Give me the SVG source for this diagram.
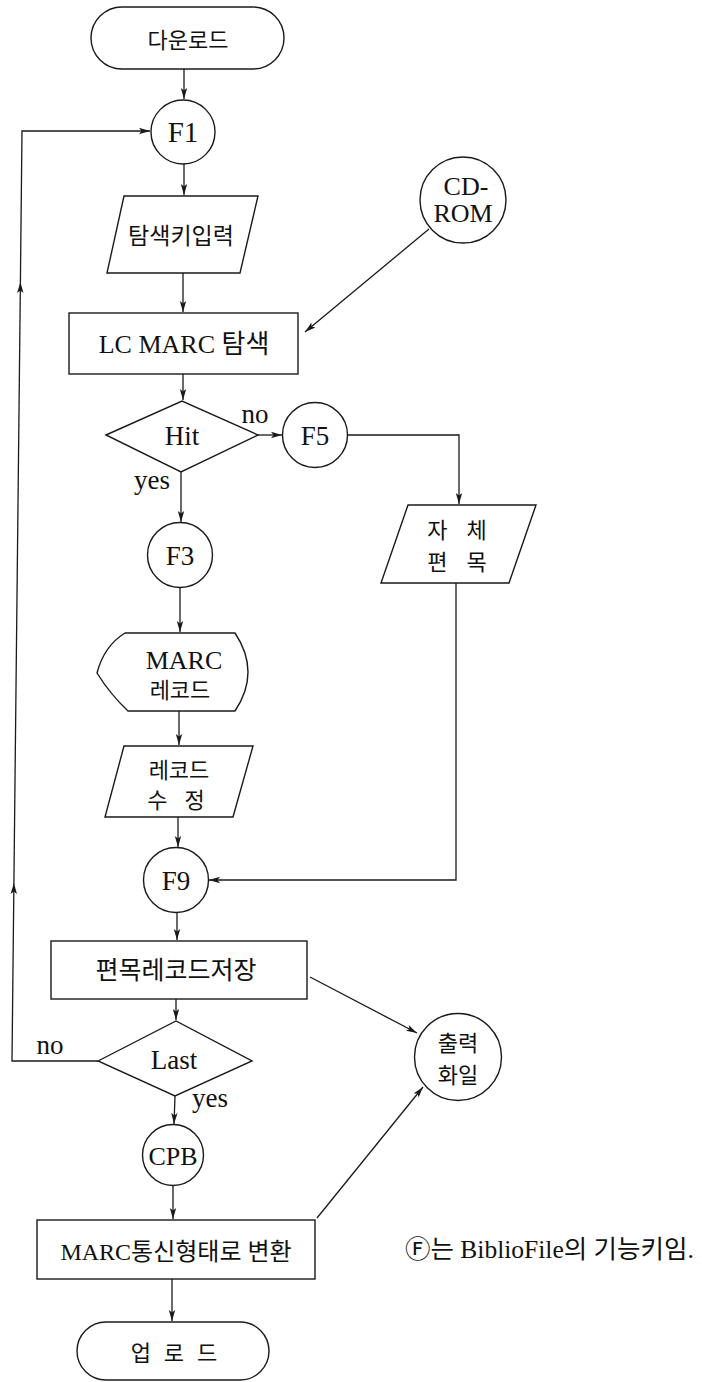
<svg xmlns="http://www.w3.org/2000/svg" width="702" height="1382" viewBox="0 0 702 1382">
<style>
.s{fill:#fff;stroke:#1a1a1a;stroke-width:1.4}
.c{fill:none;stroke:#1a1a1a;stroke-width:1.3}
.t{font-family:"Liberation Serif","Noto Sans CJK KR",serif;fill:#111;text-anchor:middle}
.k{font-family:"Noto Sans CJK KR","Liberation Sans",sans-serif;fill:#111;text-anchor:middle}
</style>
<defs>
<marker id="a" markerUnits="userSpaceOnUse" markerWidth="12" markerHeight="8" refX="11" refY="4" orient="auto">
<path d="M0,0.8 L11,4 L0,7.2 L2.5,4 Z" fill="#1a1a1a"/>
</marker>
</defs>
<rect width="702" height="1382" fill="#fff"/>
<g id="connectors">
<path class="c" d="M184,69 L184,99" marker-end="url(#a)"/>
<path class="c" d="M184,164 L184,195" marker-end="url(#a)"/>
<path class="c" d="M183,273 L183,312" marker-end="url(#a)"/>
<path class="c" d="M429,229 L305,332" marker-end="url(#a)"/>
<path class="c" d="M183,374 L183,400" marker-end="url(#a)"/>
<path class="c" d="M258,435 L282,435" marker-end="url(#a)"/>
<path class="c" d="M181,472 L181,522" marker-end="url(#a)"/>
<path class="c" d="M347,435 L459,435 L459,504" marker-end="url(#a)"/>
<path class="c" d="M180,588 L180,632" marker-end="url(#a)"/>
<path class="c" d="M179,711 L179,745" marker-end="url(#a)"/>
<path class="c" d="M178,817 L178,847" marker-end="url(#a)"/>
<path class="c" d="M456,583 L456,880 L209,880" marker-end="url(#a)"/>
<path class="c" d="M177,913 L177,940" marker-end="url(#a)"/>
<path class="c" d="M176,999 L176,1020" marker-end="url(#a)"/>
<path class="c" d="M310,977 L417,1033" marker-end="url(#a)"/>
<path class="c" d="M98,1061 L12,1061 L13.9,883" marker-end="url(#a)"/>
<path class="c" d="M13.9,883 L20.4,282" marker-end="url(#a)"/>
<path class="c" d="M20.4,282 L22,131 L150,131" marker-end="url(#a)"/>
<path class="c" d="M175,1096 L174,1124" marker-end="url(#a)"/>
<path class="c" d="M173,1186 L173,1219" marker-end="url(#a)"/>
<path class="c" d="M317,1218 L423,1087" marker-end="url(#a)"/>
<path class="c" d="M172,1279 L172,1321" marker-end="url(#a)"/>
<text class="t" x="255" y="423" font-size="27">no</text>
<text class="t" x="152" y="489" font-size="27">yes</text>
<text class="t" x="50" y="1054" font-size="27">no</text>
<text class="t" x="210" y="1107" font-size="27">yes</text>
</g>
<g id="download">
<rect class="s" x="91" y="7" width="193" height="62" rx="31"/>
<text class="k" x="188" y="48" font-size="22">다운로드</text>
</g>
<g id="f1">
<circle class="s" cx="183" cy="132" r="32"/>
<text class="t" x="183" y="142" font-size="29">F1</text>
</g>
<g id="input-key">
<path class="s" d="M124,196 L258,196 L240,273 L107,273 Z"/>
<text class="k" x="181" y="244" font-size="23">탐색키입력</text>
</g>
<g id="cdrom">
<circle class="s" cx="463" cy="200" r="43"/>
<text class="t" x="466" y="195" font-size="26">CD-</text>
<text class="t" x="463" y="222" font-size="26">ROM</text>
</g>
<g id="lcmarc">
<rect class="s" x="69" y="313" width="229" height="61"/>
<text class="t" x="184" y="353" font-size="26">LC MARC 탐색</text>
</g>
<g id="hit">
<path class="s" d="M106,435 L182,401 L258,435 L181,472 Z"/>
<text class="t" x="182" y="445" font-size="27">Hit</text>
</g>
<g id="f5">
<circle class="s" cx="315" cy="435" r="32.5"/>
<text class="t" x="315" y="445" font-size="27">F5</text>
</g>
<g id="self-catalog">
<path class="s" d="M408,505 L536,505 L509,583 L381,583 Z"/>
<text class="k" x="457" y="538" font-size="22" word-spacing="14">자 체</text>
<text class="k" x="457" y="570" font-size="22" word-spacing="14">편 목</text>
</g>
<g id="f3">
<circle class="s" cx="180" cy="555" r="32.5"/>
<text class="t" x="180" y="565" font-size="27">F3</text>
</g>
<g id="marc-record">
<path class="s" d="M125,633 L235,633 Q261,672 235,711 L128,711 Q110,694 97,673 Q104,646 125,633 Z"/>
<text class="t" x="184" y="669" font-size="26">MARC</text>
<text class="k" x="180" y="698" font-size="22">레코드</text>
</g>
<g id="edit-record">
<path class="s" d="M124,746 L253,746 L233,817 L105,817 Z"/>
<text class="k" x="179" y="778" font-size="22">레코드</text>
<text class="k" x="176" y="808" font-size="22" word-spacing="12">수 정</text>
</g>
<g id="f9">
<circle class="s" cx="176" cy="880" r="32.5"/>
<text class="t" x="176" y="890" font-size="27">F9</text>
</g>
<g id="save">
<rect class="s" x="51" y="941" width="256" height="58"/>
<text class="k" x="176" y="979" font-size="25">편목레코드저장</text>
</g>
<g id="output-file">
<circle class="s" cx="458" cy="1057" r="43.5"/>
<text class="k" x="458" y="1051" font-size="22">출력</text>
<text class="k" x="458" y="1083" font-size="22">화일</text>
</g>
<g id="last">
<path class="s" d="M98,1061 L176,1021 L252,1061 L175,1096 Z"/>
<text class="t" x="174" y="1069" font-size="27">Last</text>
</g>
<g id="cpb">
<circle class="s" cx="173" cy="1155" r="30.5"/>
<text class="t" x="173" y="1165" font-size="26">CPB</text>
</g>
<g id="convert">
<rect class="s" x="37" y="1220" width="278" height="59"/>
<text class="t" x="176" y="1260" font-size="24">MARC통신형태로 변환</text>
</g>
<g id="upload">
<rect class="s" x="77" y="1322" width="192" height="58" rx="29"/>
<text class="k" x="174" y="1361" font-size="22" word-spacing="8">업 로 드</text>
</g>
<g id="note">
<text class="t" x="405" y="1258" font-size="25.5" style="text-anchor:start">Ⓕ는 BiblioFile의 기능키임.</text>
</g>
</svg>
